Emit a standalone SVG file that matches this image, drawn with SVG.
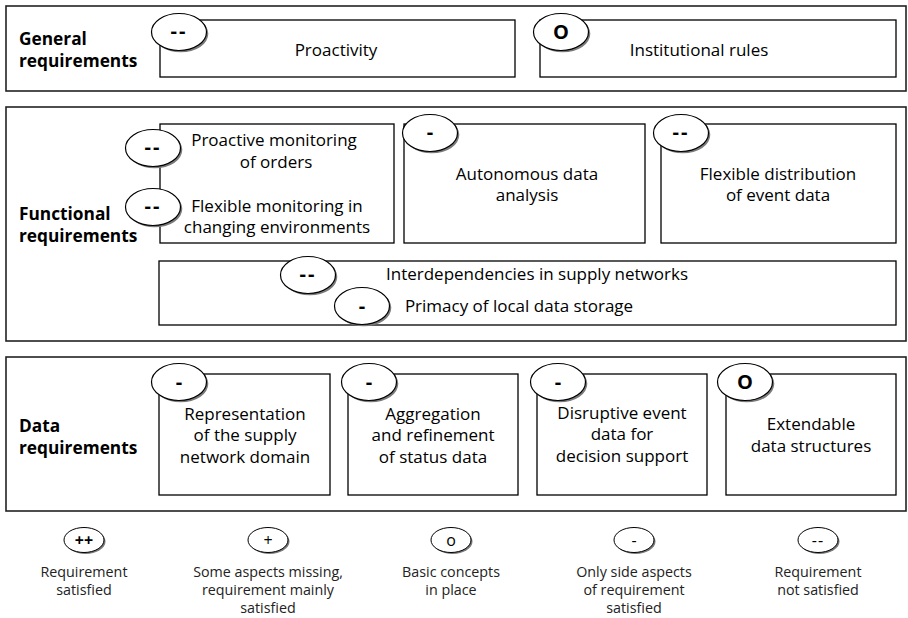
<svg xmlns="http://www.w3.org/2000/svg" width="908" height="618" viewBox="0 0 908 618">
  <style>
    .frame { fill: none; stroke: #222; stroke-width: 1.6; }
    .box { fill: #fff; stroke: #000; stroke-width: 1.3; }
    .shadow { fill: #7a7a7a; }
    .badge { fill: #fff; stroke: #000; stroke-width: 1.2; }
    .mark { font-family: "Open Sans", "Liberation Sans", sans-serif; font-size: 20px; font-weight: bold; text-anchor: middle; fill: #000; }
    .head { font-family: "Open Sans", "Liberation Sans", sans-serif; font-size: 17.3px; font-weight: bold; fill: #000; }
    .lbl { font-family: "Open Sans", "Liberation Sans", sans-serif; font-size: 17px; text-anchor: middle; fill: #000; }
    .key { font-family: "Open Sans", "Liberation Sans", sans-serif; font-size: 14.3px; text-anchor: middle; fill: #222; }
    .keymark { font-family: "Open Sans", "Liberation Sans", sans-serif; font-size: 16px; text-anchor: middle; fill: #000; }
    .keybadge { fill: #fff; stroke: #000; stroke-width: 1; }
  </style>
  <defs>
    <!-- rating badge: shadowed ellipse -->
    <g id="badge">
      <ellipse class="shadow" cx="1.8" cy="1.8" rx="27.5" ry="18.5"/>
      <ellipse class="badge" cx="0" cy="0" rx="27.5" ry="18.5"/>
    </g>
    <g id="keybadge">
      <ellipse class="shadow" cx="1.5" cy="1.5" rx="20" ry="12.5"/>
      <ellipse class="keybadge" cx="0" cy="0" rx="20" ry="12.5"/>
    </g>
  </defs>

  <!-- section frames -->
  <g id="sections">
    <rect class="frame" x="6" y="6" width="900" height="85"/>
    <rect class="frame" x="6" y="107" width="900" height="234"/>
    <rect class="frame" x="6" y="357" width="900" height="154"/>
    <text class="head" x="19" y="45">General</text>
    <text class="head" x="19" y="67">requirements</text>
    <text class="head" x="19" y="220">Functional</text>
    <text class="head" x="19" y="242">requirements</text>
    <text class="head" x="19" y="432">Data</text>
    <text class="head" x="19" y="454">requirements</text>
  </g>

  <!-- general requirements -->
  <g id="proactivity">
    <rect class="box" x="160" y="20" width="355" height="57"/>
    <use href="#badge" x="179" y="32"/>
    <text class="mark" x="179" y="38" letter-spacing="2">--</text>
    <text class="lbl" x="336" y="56">Proactivity</text>
  </g>
  <g id="institutional-rules">
    <rect class="box" x="540" y="20" width="356" height="57"/>
    <use href="#badge" x="561" y="32"/>
    <text class="mark" x="561" y="39">O</text>
    <text class="lbl" x="699" y="56">Institutional rules</text>
  </g>

  <!-- functional requirements -->
  <g id="monitoring">
    <rect class="box" x="160" y="124" width="234" height="119"/>
    <use href="#badge" x="153" y="148"/>
    <text class="mark" x="153" y="154" letter-spacing="2">--</text>
    <text class="lbl" x="274" y="146">Proactive monitoring</text>
    <text class="lbl" x="276" y="168">of orders</text>
    <use href="#badge" x="153" y="207"/>
    <text class="mark" x="153" y="213" letter-spacing="2">--</text>
    <text class="lbl" x="277" y="212">Flexible monitoring in</text>
    <text class="lbl" x="277" y="233">changing environments</text>
  </g>
  <g id="autonomous-analysis">
    <rect class="box" x="404" y="124" width="241" height="119"/>
    <use href="#badge" x="430" y="133"/>
    <text class="mark" x="430" y="139">-</text>
    <text class="lbl" x="527" y="180">Autonomous data</text>
    <text class="lbl" x="527" y="201">analysis</text>
  </g>
  <g id="event-distribution">
    <rect class="box" x="661" y="124" width="235" height="119"/>
    <use href="#badge" x="681" y="133"/>
    <text class="mark" x="681" y="139" letter-spacing="2">--</text>
    <text class="lbl" x="778" y="180">Flexible distribution</text>
    <text class="lbl" x="778" y="201">of event data</text>
  </g>
  <g id="supply-networks">
    <rect class="box" x="159" y="261" width="737" height="64"/>
    <use href="#badge" x="308" y="275"/>
    <text class="mark" x="308" y="281" letter-spacing="2">--</text>
    <text class="lbl" x="537" y="280">Interdependencies in supply networks</text>
    <use href="#badge" x="362" y="306"/>
    <text class="mark" x="362" y="313">-</text>
    <text class="lbl" x="519" y="312">Primacy of local data storage</text>
  </g>

  <!-- data requirements -->
  <g id="domain-representation">
    <rect class="box" x="159" y="374" width="171" height="121"/>
    <use href="#badge" x="179" y="382"/>
    <text class="mark" x="179" y="389">-</text>
    <text class="lbl" x="245" y="420">Representation</text>
    <text class="lbl" x="245" y="441">of the supply</text>
    <text class="lbl" x="245" y="463">network domain</text>
  </g>
  <g id="status-aggregation">
    <rect class="box" x="348" y="374" width="170" height="121"/>
    <use href="#badge" x="369" y="382"/>
    <text class="mark" x="369" y="389">-</text>
    <text class="lbl" x="433" y="420">Aggregation</text>
    <text class="lbl" x="433" y="441">and refinement</text>
    <text class="lbl" x="433" y="463">of status data</text>
  </g>
  <g id="disruptive-events">
    <rect class="box" x="537" y="374" width="170" height="121"/>
    <use href="#badge" x="558" y="382"/>
    <text class="mark" x="558" y="389">-</text>
    <text class="lbl" x="622" y="419">Disruptive event</text>
    <text class="lbl" x="622" y="440">data for</text>
    <text class="lbl" x="622" y="462">decision support</text>
  </g>
  <g id="extendable-structures">
    <rect class="box" x="726" y="374" width="170" height="121"/>
    <use href="#badge" x="745" y="382"/>
    <text class="mark" x="745" y="389">O</text>
    <text class="lbl" x="811" y="430">Extendable</text>
    <text class="lbl" x="811" y="452">data structures</text>
  </g>

  <!-- rating key -->
  <g id="key-satisfied">
    <use href="#keybadge" x="84" y="540"/>
    <text class="keymark" x="84" y="545.5" font-weight="bold">++</text>
    <text class="key" x="84" y="577">Requirement</text>
    <text class="key" x="84" y="595">satisfied</text>
  </g>
  <g id="key-mainly">
    <use href="#keybadge" x="268" y="540"/>
    <text class="keymark" x="268" y="545.5">+</text>
    <text class="key" x="268" y="577">Some aspects missing,</text>
    <text class="key" x="268" y="595">requirement mainly</text>
    <text class="key" x="268" y="613">satisfied</text>
  </g>
  <g id="key-basic">
    <use href="#keybadge" x="451" y="540"/>
    <text class="keymark" x="451" y="545.5">o</text>
    <text class="key" x="451" y="577">Basic concepts</text>
    <text class="key" x="451" y="595">in place</text>
  </g>
  <g id="key-side">
    <use href="#keybadge" x="634" y="540"/>
    <text class="keymark" x="634" y="545.5">-</text>
    <text class="key" x="634" y="577">Only side aspects</text>
    <text class="key" x="634" y="595">of requirement</text>
    <text class="key" x="634" y="613">satisfied</text>
  </g>
  <g id="key-not">
    <use href="#keybadge" x="818" y="540"/>
    <text class="keymark" x="818" y="545.5" letter-spacing="1">--</text>
    <text class="key" x="818" y="577">Requirement</text>
    <text class="key" x="818" y="595">not satisfied</text>
  </g>

  <!-- no connectors in this figure -->
  <g id="connectors"/>
</svg>
